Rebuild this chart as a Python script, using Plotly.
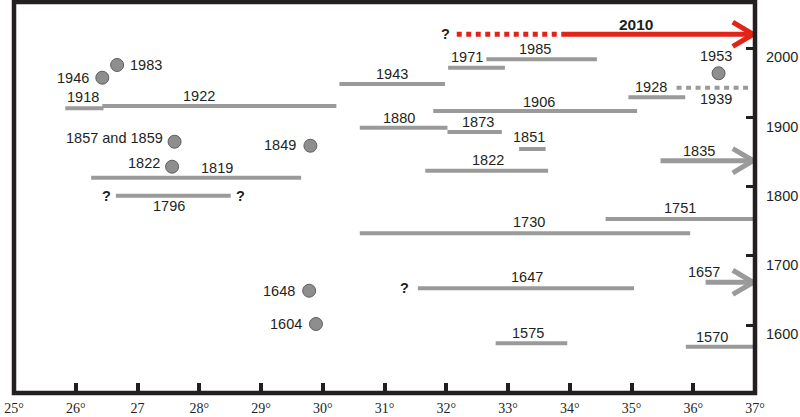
import plotly.graph_objects as go

# ---------------- data (degrees of longitude vs. year position) ----------------
x_tick_vals = [25, 26, 27, 28, 29, 30, 31, 32, 33, 34, 35, 36, 37]
x_tick_text = ["25°", "26°", "27", "28°", "29°", "30°", "31°", "32°", "33°", "34°", "35°", "36°", "37°"]
y_tick_vals = [1600, 1700, 1800, 1900, 2000]
y_tick_text = ["1600", "1700", "1800", "1900", "2000"]

# solid grey rupture segments
seg_x0 = [25.83, 26.43, 26.25, 26.65, 32.65, 32.03, 30.27, 31.79, 30.60, 32.02, 33.18, 31.66, 34.95, 34.58, 30.60, 31.54, 32.80, 35.88]
seg_x1 = [26.45, 30.22, 29.65, 28.51, 34.44, 32.95, 31.98, 35.09, 32.02, 32.90, 33.61, 33.65, 35.87, 36.97, 35.95, 35.04, 33.96, 36.97]
seg_y = [1913.3, 1916.6, 1813.0, 1787.0, 1984.1, 1972.0, 1948.4, 1909.4, 1885.3, 1879.1, 1854.5, 1823.1, 1929.2, 1753.3, 1732.7, 1653.2, 1573.7, 1568.8]

# dotted grey segment (1939)
dot_seg_x0 = [35.73]
dot_seg_x1 = [36.92]
dot_seg_y = [1943.1]

# grey arrows (1835, 1657)
arr_x0 = [35.47, 36.20]
arr_x1 = [36.97, 36.97]
arr_y = [1837.6, 1661.8]

# red 2010 rupture: uncertain (dotted) part then certain part with arrow
red_dotted_x = [32.17, 33.89]
red_solid_x = [33.89, 36.97]
red_y = 2020.2

# point events (circles)
pt_x = [26.67, 26.43, 27.60, 29.80, 27.56, 36.41, 29.78, 29.89]
pt_y = [1975.9, 1957.5, 1865.0, 1859.2, 1828.9, 1963.9, 1649.7, 1601.6]

# text labels
lab_text = ["1918", "1922", "1983", "1946", "1857 and 1859", "1849", "1822", "1819", "1796",
            "1985", "1971", "1943", "1906", "1880", "1873", "1851", "1822", "1928", "1939",
            "1953", "1835", "1751", "1730", "1647", "1657", "1575", "1570", "1648", "1604"]
lab_x = [26.12, 28.00, 26.85, 26.24, 27.45, 29.60, 27.40, 28.29, 27.51,
         33.43, 32.33, 31.12, 33.50, 31.24, 32.52, 33.34, 32.68, 35.31, 36.37,
         36.37, 36.09, 35.78, 33.34, 33.30, 36.18, 33.33, 36.31, 29.58, 29.69]
lab_y = [1930.1, 1931.5, 1975.9, 1957.5, 1869.9, 1860.1, 1834.2, 1826.6, 1772.5,
         1999.0, 1987.9, 1962.9, 1922.8, 1899.7, 1893.1, 1872.3, 1838.6, 1943.7, 1926.3,
         1989.3, 1851.6, 1768.8, 1748.6, 1669.1, 1677.2, 1588.2, 1583.2, 1649.7, 1601.6]
lab_anchor = ["center", "center", "left", "right", "right", "right", "right", "center", "center",
              "center", "center", "center", "center", "center", "center", "center", "center", "center", "center",
              "center", "center", "center", "center", "center", "center", "center", "center", "right", "right"]

q_x = [26.50, 28.66, 31.99, 31.33]
q_y = [1786.5, 1786.5, 2020.7, 1653.2]

title_2010 = "2010"
title_2010_x = 35.08
title_2010_y = 2035.1

# ---------------- styles ----------------
GREY = "#9a9a9a"
RED = "#e2231a"
DARK = "#231f20"
SANS = "Liberation Sans, Arial, sans-serif"
SERIF = "Liberation Serif, Times New Roman, serif"
HEAD_DX = 0.33
HEAD_DY = 17.5

fig = go.Figure()


def seg_path(x0s, x1s, ys):
    xs, yy = [], []
    for a, b, y in zip(x0s, x1s, ys):
        xs += [a, b, None]
        yy += [y, y, None]
    return xs, yy


xs, yy = seg_path(seg_x0, seg_x1, seg_y)
fig.add_trace(go.Scatter(x=xs, y=yy, mode="lines", line=dict(color=GREY, width=4), hoverinfo="skip"))

xs, yy = seg_path(dot_seg_x0, dot_seg_x1, dot_seg_y)
fig.add_trace(go.Scatter(x=xs, y=yy, mode="lines", line=dict(color=GREY, width=4, dash="5px,4.5px"), hoverinfo="skip"))

# grey arrows
xs, yy = seg_path(arr_x0, arr_x1, arr_y)
for xe, y in zip(arr_x1, arr_y):
    xs += [xe - HEAD_DX, xe, xe - HEAD_DX, None]
    yy += [y + HEAD_DY, y, y - HEAD_DY, None]
fig.add_trace(go.Scatter(x=xs, y=yy, mode="lines", line=dict(color=GREY, width=5), hoverinfo="skip"))

# red arrow
fig.add_trace(go.Scatter(x=red_dotted_x, y=[red_y, red_y], mode="lines",
                         line=dict(color=RED, width=5, dash="5px,4.5px"), hoverinfo="skip"))
rx = list(red_solid_x) + [None, red_solid_x[1] - HEAD_DX, red_solid_x[1], red_solid_x[1] - HEAD_DX]
ry = [red_y, red_y, None, red_y + HEAD_DY, red_y, red_y - HEAD_DY]
fig.add_trace(go.Scatter(x=rx, y=ry, mode="lines", line=dict(color=RED, width=5), hoverinfo="skip"))

# points
fig.add_trace(go.Scatter(x=pt_x, y=pt_y, mode="markers",
                         marker=dict(size=13, color="#8e8e8e", line=dict(color="#5e5e5e", width=1)),
                         hoverinfo="skip"))

annotations = []
for t, x, y, anc in zip(lab_text, lab_x, lab_y, lab_anchor):
    annotations.append(dict(x=x, y=y, text=t, showarrow=False, xanchor=anc, yanchor="middle",
                            font=dict(family=SANS, size=14.5, color=DARK)))
for x, y in zip(q_x, q_y):
    annotations.append(dict(x=x, y=y, text="<b>?</b>", showarrow=False, xanchor="center", yanchor="middle",
                            font=dict(family=SANS, size=14.5, color=DARK)))
annotations.append(dict(x=title_2010_x, y=title_2010_y, text="<b>" + title_2010 + "</b>", showarrow=False,
                        xanchor="center", yanchor="middle", font=dict(family=SANS, size=15.5, color=DARK)))

fig.update_layout(
    width=800, height=417,
    margin=dict(l=13.5, r=44.5, t=2, b=24),
    paper_bgcolor="white", plot_bgcolor="white",
    showlegend=False,
    annotations=annotations,
    shapes=[dict(type="rect", xref="paper", yref="paper", x0=0, x1=1, y0=0, y1=1,
                 line=dict(color=DARK, width=4.5), layer="above")],
    xaxis=dict(range=[25, 37], tickvals=x_tick_vals, ticktext=x_tick_text, ticks="inside",
               ticklen=10, tickwidth=3.5, tickcolor=DARK, showgrid=False, zeroline=False, showline=False,
               tickfont=dict(family=SERIF, size=14, color=DARK), automargin=False, fixedrange=True,
               ticklabelstandoff=5),
    yaxis=dict(range=[1501.9, 2066.9], side="right", tickvals=y_tick_vals, ticktext=y_tick_text,
               ticks="inside", ticklen=9, tickwidth=3, tickcolor=DARK, showgrid=False, zeroline=False,
               showline=False, tickfont=dict(family=SANS, size=14.5, color=DARK), automargin=False,
               ticklabelshift=9, ticklabelstandoff=10, fixedrange=True),
)

fig.write_html("out.html")
